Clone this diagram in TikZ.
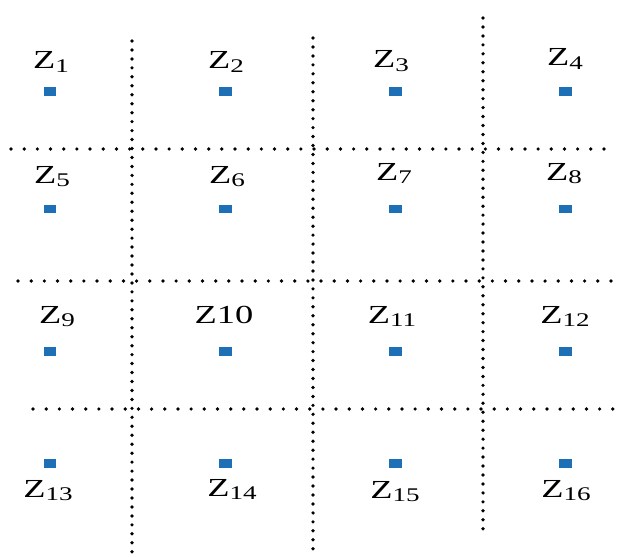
\documentclass[tikz,border=0pt]{standalone}
\usepackage{fontspec}
\setmainfont{Liberation Serif}
\usetikzlibrary{positioning}
\definecolor{siteblue}{RGB}{30,112,182}
\newcommand{\widez}[1]{\scalebox{1.4}[1]{#1}}
\newcommand{\zsub}[1]{\raisebox{-1.8pt}{\fontsize{11}{12}\selectfont #1}}

\begin{document}
\begin{tikzpicture}[x=0.02cm, y=-0.02cm,
    hline/.style={line width=2.1pt, line cap=round, dash pattern=on 0pt off 7.5pt},
    vline/.style={line width=2.1pt, line cap=round, dash pattern=on 0pt off 5.1pt},
    site/.style={fill=siteblue, inner sep=0pt, minimum width=0.26cm, minimum height=0.18cm},
    zlabel/.style={anchor=base, inner sep=0pt, font=\fontsize{14.8}{17}\selectfont}]
  \useasboundingbox (0,0) rectangle (621,557);
  %% Dotted partition lines
  \draw[vline] (132,41) -- (132,553);
  \draw[vline] (313,38) -- (313,557);
  \draw[vline] (483,18) -- (483,533);
  \draw[hline] (11,149) -- (607,149);
  \draw[hline] (18,281) -- (614,281);
  \draw[hline] (33,409) -- (614,409);
  %% Sites
  \foreach \r/\y in {0/92, 1/209, 2/351, 3/463}
    \foreach \c/\x in {1/50, 2/225, 3/395, 4/565} {
      \pgfmathtruncatemacro{\k}{4*\r+\c}
      \node[site] (s\k) at (\x,\y) {};
    }
  %% Labels
  \node[zlabel] (z1) at (51,69) {\widez{Z\zsub{1}}};
  \node[zlabel] (z2) at (226,69) {\widez{Z\zsub{2}}};
  \node[zlabel] (z3) at (391,68) {\widez{Z\zsub{3}}};
  \node[zlabel] (z4) at (565,66) {\widez{Z\zsub{4}}};
  \node[zlabel] (z5) at (52,183) {\widez{Z\zsub{5}}};
  \node[zlabel] (z6) at (227,183) {\widez{Z\zsub{6}}};
  \node[zlabel] (z7) at (394,180) {\widez{Z\zsub{7}}};
  \node[zlabel] (z8) at (564,180) {\widez{Z\zsub{8}}};
  \node[zlabel] (z9) at (57,323) {\widez{Z\zsub{9}}};
  \node[zlabel] (z10) at (224,323) {\widez{Z10}};
  \node[zlabel] (z11) at (392,323) {\widez{Z\zsub{11}}};
  \node[zlabel] (z12) at (565,323) {\widez{Z\zsub{12}}};
  \node[zlabel] (z13) at (48,497) {\widez{Z\zsub{13}}};
  \node[zlabel] (z14) at (232,496) {\widez{Z\zsub{14}}};
  \node[zlabel] (z15) at (395,498) {\widez{Z\zsub{15}}};
  \node[zlabel] (z16) at (566,497) {\widez{Z\zsub{16}}};
\end{tikzpicture}
\end{document}
